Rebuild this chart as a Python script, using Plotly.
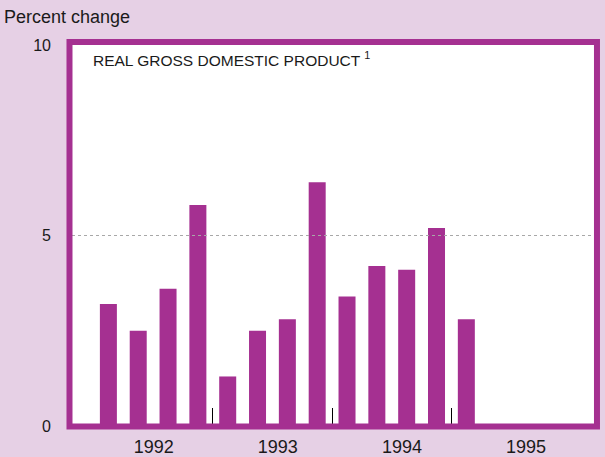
import plotly.graph_objects as go

# Real GDP, percent change by quarter, 1992 Q1 - 1995 Q1
quarters = ["1992 Q1", "1992 Q2", "1992 Q3", "1992 Q4",
            "1993 Q1", "1993 Q2", "1993 Q3", "1993 Q4",
            "1994 Q1", "1994 Q2", "1994 Q3", "1994 Q4",
            "1995 Q1"]
gdp_change = [3.2, 2.5, 3.6, 5.8, 1.3, 2.5, 2.8, 6.4, 3.4, 4.2, 4.1, 5.2, 2.8]
years = ["1992", "1993", "1994", "1995"]
y_ticks = [0, 5, 10]
ref_level = 5

BG = "#E6D0E5"
PURPLE = "#A53091"
TEXT = "#1a1a1a"

fig = go.Figure()

fig.add_trace(go.Bar(x=list(range(len(gdp_change))),
                     y=gdp_change,
                     width=0.57,
                     marker=dict(color=PURPLE, line=dict(width=0)),
                     hovertext=quarters))

# dotted reference line at 5 percent
fig.add_hline(y=ref_level, line=dict(color="#a8a8a8", width=1, dash="dot"))

# thick purple frame round the plot
fig.add_shape(type="rect", xref="paper", yref="paper",
              x0=-0.0048, x1=1.0057, y0=-0.0013, y1=1.0079,
              line=dict(color=PURPLE, width=6))

fig.update_layout(
    width=605, height=457,
    margin=dict(l=72, r=11, t=45, b=31),
    paper_bgcolor=BG,
    plot_bgcolor="white",
    showlegend=False,
    font=dict(family="Liberation Sans, Arial, sans-serif", color=TEXT),
    xaxis=dict(range=[-1.22, 16.28],
               tickvals=[1.52, 5.68, 9.84, 14.0],
               ticktext=years,
               ticks="",
               ticklabelstandoff=8,
               tickfont=dict(size=18),
               automargin=False,
               showgrid=False, zeroline=False, showline=False,
               minor=dict(tickmode="array", tickvals=[3.5, 7.5, 11.5],
                          ticks="inside", ticklen=18, tickwidth=1,
                          tickcolor="black", showgrid=False)),
    yaxis=dict(range=[0, 10],
               tickvals=y_ticks,
               ticks="",
               ticklabelstandoff=20,
               tickfont=dict(size=16),
               automargin=False,
               showgrid=False, zeroline=False, showline=False),
)

fig.add_annotation(text="Percent change", xref="paper", yref="paper",
                   x=-0.135, y=1.073, xanchor="left", yanchor="middle",
                   showarrow=False, font=dict(size=18, color=TEXT))

fig.add_annotation(text="REAL GROSS DOMESTIC PRODUCT <sup>1</sup>",
                   xref="paper", yref="paper",
                   x=0.037, y=0.963, xanchor="left", yanchor="middle",
                   showarrow=False,
                   font=dict(size=15.5, color=TEXT))

# drop the browser's default body margin so the figure sits at the corner
fig.write_html("out.html", config={"displayModeBar": False},
               post_script="document.body.style.margin='0';")
